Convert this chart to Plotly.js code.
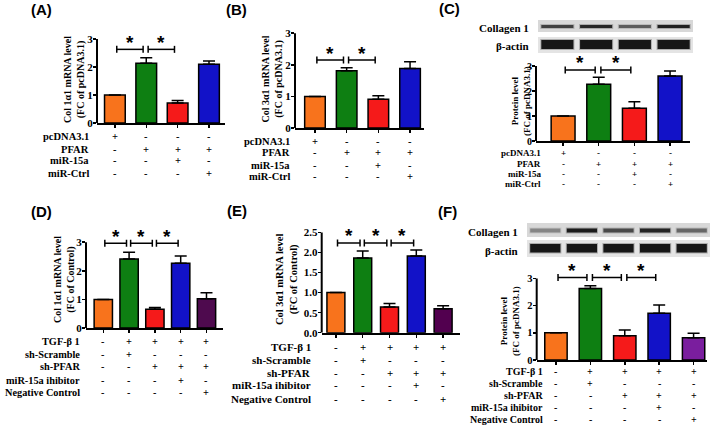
<!DOCTYPE html>
<html><head><meta charset="utf-8">
<script src="https://cdn.plot.ly/plotly-3.0.1.min.js"></script>
<style>html,body{margin:0;padding:0;background:#fff}#chart{width:720px;height:428px}</style>
</head><body><div id="chart"></div>
<script>
// ---------------- data ----------------
const groupsTop = ['pcDNA3.1', 'PFAR', 'miR-15a', 'miR-Ctrl'];
const signsTop = [
  ['+', '-', '-', '-'],
  ['-', '+', '+', '+'],
  ['-', '-', '+', '-'],
  ['-', '-', '-', '+']
];
const groupsBottom = ['TGF-β 1', 'sh-Scramble', 'sh-PFAR', 'miR-15a ihibitor', 'Negative Control'];
const signsBottom = [
  ['-', '+', '+', '+', '+'],
  ['-', '+', '-', '-', '-'],
  ['-', '-', '+', '+', '+'],
  ['-', '-', '-', '+', '-'],
  ['-', '-', '-', '-', '+']
];

const meanA = [1.00, 2.13, 0.71, 2.10];
const errA  = [0.00, 0.20, 0.09, 0.11];
const meanB = [1.00, 1.81, 0.91, 1.88];
const errB  = [0.00, 0.10, 0.11, 0.22];
const meanC = [1.00, 2.27, 1.31, 2.60];
const errC  = [0.00, 0.28, 0.26, 0.20];
const meanD = [1.00, 2.41, 0.66, 2.26, 1.02];
const errD  = [0.00, 0.24, 0.06, 0.26, 0.21];
const meanE = [1.00, 1.86, 0.64, 1.91, 0.60];
const errE  = [0.00, 0.18, 0.09, 0.15, 0.07];
const meanF = [1.00, 2.63, 0.89, 1.72, 0.82];
const errF  = [0.00, 0.10, 0.21, 0.30, 0.16];

const sigPairsTop = [[0, 1], [1, 2]];
const sigPairsBottom = [[0, 1], [1, 2], [2, 3]];
const sigYA = 2.63, sigYB = 2.15, sigYC = 2.84, sigYD = 2.96, sigYE = 2.24, sigYF = 3.03;

const yTitleA = ['Col 1α1 mRNA level', '(FC of pcDNA3.1)'];
const yTitleB = ['Col 3α1 mRNA level', '(FC of pcDNA3.1)'];
const yTitleC = ['Protein level', '(FC of pcDNA3.1)'];
const yTitleD = ['Col 1α1 mRNA level', '(FC of Control)'];
const yTitleE = ['Col 3α1 mRNA level', '(FC of Control)'];
const yTitleF = ['Protein level', '(FC of pcDNA3.1)'];

const blotNames = ['Collagen 1', 'β-actin'];
const collagenC = [0.70, 0.85, 0.55, 0.90];
const actinC    = [0.95, 0.95, 0.95, 0.95];
const collagenF = [0.35, 0.92, 0.65, 0.88, 0.50];
const actinF    = [0.95, 0.95, 0.95, 0.95, 0.95];

// ---------------- style / layout ----------------
const W = 720, H = 428;
const X = px => px / W, Y = py => 1 - py / H;
const SERIF = 'Liberation Serif, Times New Roman, serif';
const SANS = 'Liberation Sans, Arial, sans-serif';
const colTop = ['#F8731C', '#0E7F12', '#F51A1A', '#1212C8'];
const colD = ['#F8731C', '#0E7F12', '#F51A1A', '#1212C8', '#4E0A4E'];
const colE = ['#F8731C', '#0E7F12', '#F51A1A', '#1212C8', '#52004F'];
const colF = ['#F8731C', '#0E7F12', '#F51A1A', '#1212C8', '#7A1E9E'];

const panels = [
  {label:'(A)', lab:[41,9], mean:meanA, err:errA, colors:colTop, xPx:[97,225], xr:[-0.57,3.51], y0:123, ppu:28, top:3, dtick:1, fmt:0, barW:0.66,
   sig:sigPairsTop, sigY:sigYA, groups:groupsTop, signs:signsTop, rowRight:91, rows:[137,149,161,173], rowFont:10.5,
   yTitle:yTitleA, yt:[74,80], ytFont:10, tickFont:11},
  {label:'(B)', lab:[236,10], mean:meanB, err:errB, colors:colTop, xPx:[295,424], xr:[-0.63,3.44], y0:128, ppu:31.6, top:3, dtick:1, fmt:0, barW:0.65,
   sig:sigPairsTop, sigY:sigYB, groups:groupsTop, signs:signsTop, rowRight:292, rows:[141,153,165,177], rowFont:10.5,
   yTitle:yTitleB, yt:[272,79.5], ytFont:10, tickFont:11},
  {label:'(C)', lab:[449,8], mean:meanC, err:errC, colors:colTop, xPx:[536,690], xr:[-0.76,3.56], y0:141, ppu:25, top:3, dtick:1, fmt:0, barW:0.67,
   sig:sigPairsTop, sigY:sigYC, groups:groupsTop, signs:signsTop, rowRight:543, rows:[153,164,174,184], rowFont:9,
   yTitle:yTitleC, yt:[521,101], ytFont:9, tickFont:10,
   blot:{box:[538,693], rows:[[20,32],[37,53]], bands:[[25,28],[40,49]], data:[collagenC, actinC], labRight:531, labY:[28,46]}},
  {label:'(D)', lab:[41,212], mean:meanD, err:errD, colors:colD, xPx:[86,223], xr:[-0.67,4.64], y0:328, ppu:28.6, top:3, dtick:1, fmt:0, barW:0.71,
   sig:sigPairsBottom, sigY:sigYD, groups:groupsBottom, signs:signsBottom, rowRight:82, rows:[341,354.3,366.7,380,392.7], rowFont:10.3,
   yTitle:yTitleD, yt:[64,280], ytFont:10, tickFont:11},
  {label:'(E)', lab:[237,210], mean:meanE, err:errE, colors:colE, xPx:[321.7,460], xr:[-0.53,4.63], y0:332.7, ppu:40.1, top:2.5, dtick:0.5, fmt:1, barW:0.67,
   sig:sigPairsBottom, sigY:sigYE, groups:groupsBottom, signs:signsBottom, rowRight:312.7, rows:[346.7,360,372.7,385.3,399], rowFont:11,
   yTitle:yTitleE, yt:[287,280], ytFont:10.5, tickFont:11},
  {label:'(F)', lab:[447,212], mean:meanF, err:errF, colors:colF, xPx:[536.7,707], xr:[-0.56,4.39], y0:360, ppu:27.2, top:3, dtick:1, fmt:0, barW:0.65,
   sig:sigPairsBottom, sigY:sigYF, groups:groupsBottom, signs:signsBottom, rowRight:545, rows:[371,383.3,395,407.3,419.3], rowFont:10,
   yTitle:yTitleF, yt:[510,321], ytFont:9, tickFont:10.5,
   blot:{box:[527,710], rows:[[223,237],[240,257]], bands:[[228.5,232.5],[244,252.5]], data:[collagenF, actinF], labRight:520, labY:[231.7,251]}}
];

const traces = [], shapes = [], annotations = [];
const layout = {
  width: W, height: H, margin: {l:0, r:0, t:0, b:0},
  paper_bgcolor: '#ffffff', plot_bgcolor: 'rgba(0,0,0,0)', showlegend: false,
  font: {family: SERIF, color: '#000'}
};

panels.forEach((p, k) => {
  const n = k + 1;
  const xs = n === 1 ? 'x' : 'x' + n, ys = n === 1 ? 'y' : 'y' + n;
  const xk = n === 1 ? 'xaxis' : 'xaxis' + n, yk = n === 1 ? 'yaxis' : 'yaxis' + n;
  const idx = p.mean.map((_, i) => i);
  const rangeTop = p.top * 1.18;
  const nt = Math.round(p.top / p.dtick) + 1;
  layout[xk] = {
    type: 'linear', domain: [X(p.xPx[0]), X(p.xPx[1])], range: p.xr, anchor: ys,
    showline: true, linecolor: '#000', linewidth: 2,
    ticks: 'outside', ticklen: 3, tickwidth: 1.5, tickcolor: '#000',
    tickmode: 'linear', tick0: 0, dtick: 1, showticklabels: false, showgrid: false, zeroline: false, fixedrange: true
  };
  layout[yk] = {
    type: 'linear', domain: [Y(p.y0), Y(p.y0 - rangeTop * p.ppu)], range: [0, rangeTop], anchor: xs,
    showline: false, ticks: 'outside', ticklen: 3, tickwidth: 1.5, tickcolor: '#000',
    tickmode: 'array',
    tickvals: Array.from({length: nt}, (_, i) => i * p.dtick),
    ticktext: Array.from({length: nt}, (_, i) => (i * p.dtick).toFixed(p.fmt)),
    ticklabelstandoff: -2,
    tickfont: {family: SERIF, size: p.tickFont, color: '#000', weight: 'bold'},
    showgrid: false, zeroline: false, fixedrange: true
  };
  traces.push({
    type: 'bar', x: idx, y: p.mean, xaxis: xs, yaxis: ys, width: p.barW,
    marker: {color: p.colors, line: {color: '#000', width: 1.5}},
    error_y: {type: 'data', array: p.err, arrayminus: p.err.map(() => 0), symmetric: false,
              color: '#000', thickness: 1.5, width: 6},
    hoverinfo: 'skip'
  });
  // y axis line up to the top tick
  shapes.push({type: 'line', xref: xs + ' domain', yref: ys, x0: 0, x1: 0, y0: 0, y1: p.top,
               line: {color: '#000', width: 2}});
  // significance brackets
  p.sig.forEach(([i, j]) => {
    const a = i + 0.06, b = j - 0.1;
    shapes.push({type: 'line', xref: xs, yref: ys, x0: a, x1: b, y0: p.sigY, y1: p.sigY, line: {color: '#000', width: 1.5}});
    [a, b].forEach(v => shapes.push({type: 'line', xref: xs, yref: ys, ysizemode: 'pixel', yanchor: p.sigY,
      x0: v, x1: v, y0: -3.5, y1: 3.5, line: {color: '#000', width: 1.5}}));
    annotations.push({xref: xs, yref: ys, x: (a + b) / 2, y: p.sigY, text: '*', showarrow: false,
      xanchor: 'center', yanchor: 'middle', yshift: 7, font: {family: SANS, size: 19, weight: 'bold', color: '#000'}});
  });
  // treatment rows
  p.groups.forEach((g, r) => {
    annotations.push({xref: 'paper', yref: 'paper', x: X(p.rowRight), y: Y(p.rows[r]), text: g, showarrow: false,
      xanchor: 'right', yanchor: 'middle', font: {family: SERIF, size: p.rowFont, weight: 'bold', color: '#000'}});
    p.signs[r].forEach((s, i) => annotations.push({xref: xs, yref: 'paper', x: i, y: Y(p.rows[r]), text: s, showarrow: false,
      xanchor: 'center', yanchor: 'middle', font: {family: SERIF, size: p.rowFont, weight: 'bold', color: '#000'}}));
  });
  // y title
  annotations.push({xref: 'paper', yref: 'paper', x: X(p.yt[0]), y: Y(p.yt[1]), text: p.yTitle.join('<br>'),
    textangle: -90, showarrow: false, xanchor: 'center', yanchor: 'middle',
    font: {family: SERIF, size: p.ytFont, weight: 'bold', color: '#000'}});
  // panel label
  annotations.push({xref: 'paper', yref: 'paper', x: X(p.lab[0]), y: Y(p.lab[1]), text: p.label, showarrow: false,
    xanchor: 'center', yanchor: 'middle', font: {family: SANS, size: 15, weight: 'bold', color: '#000'}});
  // western blot
  if (p.blot) {
    const bl = p.blot, nl = bl.data[0].length, lw = (bl.box[1] - bl.box[0]) / nl;
    bl.rows.forEach((rw, r) => {
      shapes.push({type: 'rect', xref: 'paper', yref: 'paper', x0: X(bl.box[0]), x1: X(bl.box[1]), y0: Y(rw[1]), y1: Y(rw[0]),
        fillcolor: r === 0 ? '#D8D8D8' : '#E4E4E4', line: {width: 0}, layer: 'below'});
      bl.data[r].forEach((v, i) => {
        const c = bl.box[0] + lw * (i + 0.5), hw = lw * 0.44;
        const bb = bl.bands[r];
        shapes.push({type: 'rect', xref: 'paper', yref: 'paper', x0: X(c - hw), x1: X(c + hw), y0: Y(bb[1] + 1), y1: Y(bb[0] - 1),
          fillcolor: 'rgba(40,40,40,' + (v * 0.3) + ')', line: {width: 0}});
        shapes.push({type: 'rect', xref: 'paper', yref: 'paper', x0: X(c - hw + 1), x1: X(c + hw - 1), y0: Y(bb[1]), y1: Y(bb[0]),
          fillcolor: 'rgba(15,15,15,' + v + ')', line: {width: 0}});
      });
      annotations.push({xref: 'paper', yref: 'paper', x: X(bl.labRight), y: Y(bl.labY[r]), text: blotNames[r], showarrow: false,
        xanchor: 'right', yanchor: 'middle', font: {family: SERIF, size: 11, weight: 'bold', color: '#000'}});
    });
  }
});

layout.shapes = shapes;
layout.annotations = annotations;
Plotly.newPlot('chart', traces, layout, {displayModeBar: false, staticPlot: true});
</script>
</body></html>
